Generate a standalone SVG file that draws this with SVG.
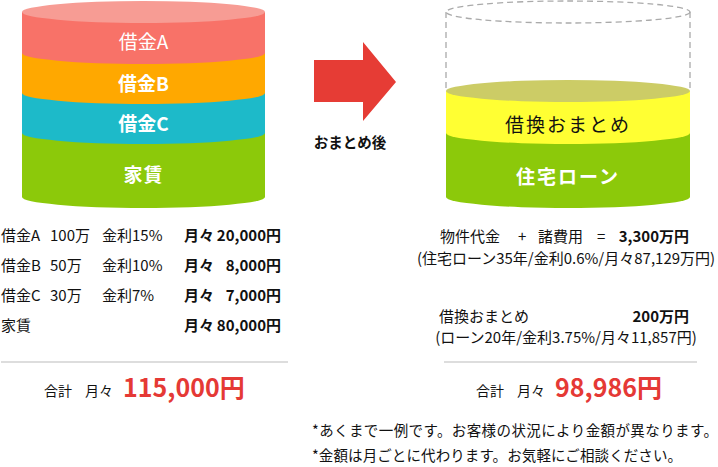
<svg xmlns="http://www.w3.org/2000/svg" width="718" height="467" viewBox="0 0 718 467">
<style>
text{font-family:"Noto Sans CJK JP","Noto Sans",sans-serif;}
.t{font-size:15px;fill:#111;}
.b{font-weight:bold;}
.lbl{font-size:19px;fill:#fff;text-anchor:middle;}
.red{fill:#E53935;font-weight:bold;font-size:25px;}
.note{font-size:14.5px;fill:#111;}
.div{stroke:#dddddd;stroke-width:2;}
.dash{fill:none;stroke:#aaaaaa;stroke-width:1.3;stroke-dasharray:6 4;}
</style>
<g id="before-cylinder">
<path d="M22,133 L265,133 L265,197 A121.5,11 0 0 1 22,197 Z" fill="#8CC90A"/>
<path d="M22,93 L265,93 L265,133 A121.5,11 0 0 1 22,133 Z" fill="#1DBAC9"/>
<path d="M22,53 L265,53 L265,93 A121.5,11 0 0 1 22,93 Z" fill="#FFA800"/>
<path d="M22,12 L265,12 L265,53 A121.5,11 0 0 1 22,53 Z" fill="#F87268"/>
<ellipse cx="143.5" cy="12" rx="121.5" ry="11" fill="#F79C94"/>
<text class="lbl" x="143.5" y="49">借金A</text>
<text class="lbl b" x="143.5" y="91">借金B</text>
<text class="lbl b" x="143.5" y="131">借金C</text>
<text class="lbl b" x="143.5" y="182" letter-spacing="1">家賃</text>
</g>
<g id="arrow">
<path d="M314,60 L363,60 L363,42 L396,82 L363,121 L363,102 L314,102 Z" fill="#E63C35"/>
<text x="350" y="148" text-anchor="middle" font-size="14.5" font-weight="bold" fill="#111">おまとめ後</text>
</g>
<g id="after-cylinder">
<ellipse class="dash" cx="568" cy="12" rx="122" ry="11"/>
<line class="dash" x1="446" y1="12" x2="446" y2="91"/>
<line class="dash" x1="690" y1="12" x2="690" y2="91"/>
<path d="M446,133 L690,133 L690,197 A122,11 0 0 1 446,197 Z" fill="#8CC90A"/>
<path d="M446,91 L690,91 L690,133 A122,11 0 0 1 446,133 Z" fill="#FFFF33"/>
<ellipse cx="568" cy="91" rx="122" ry="11" fill="#CCCC66"/>
<text x="568" y="132" text-anchor="middle" font-size="19" letter-spacing="2" fill="#111">借換おまとめ</text>
<text class="lbl b" x="568" y="184" letter-spacing="2">住宅ローン</text>
</g>
<g id="before-table">
<text class="t" x="1" y="241">借金A</text><text class="t" x="50" y="241">100万</text><text class="t" x="102" y="241">金利15%</text>
<text class="t b" x="184" y="241">月々</text><text class="t b" x="281" y="241" text-anchor="end">20,000円</text>
<text class="t" x="1" y="271">借金B</text><text class="t" x="50" y="271">50万</text><text class="t" x="102" y="271">金利10%</text>
<text class="t b" x="184" y="271">月々</text><text class="t b" x="281" y="271" text-anchor="end">8,000円</text>
<text class="t" x="1" y="301">借金C</text><text class="t" x="50" y="301">30万</text><text class="t" x="102" y="301">金利7%</text>
<text class="t b" x="184" y="301">月々</text><text class="t b" x="281" y="301" text-anchor="end">7,000円</text>
<text class="t" x="1" y="331">家賃</text>
<text class="t b" x="184" y="331">月々</text><text class="t b" x="281" y="331" text-anchor="end">80,000円</text>
<line class="div" x1="1" y1="362" x2="288" y2="362"/>
<text x="44" y="396" font-size="14" fill="#111">合計</text>
<text x="85" y="396" font-size="14" fill="#111">月々</text>
<text class="red" x="123" y="397">115,000円</text>
</g>
<g id="after-table">
<text class="t" x="440" y="242">物件代金</text>
<text class="t" x="518" y="242">+</text>
<text class="t" x="538" y="242">諸費用</text>
<text class="t" x="597" y="242">=</text>
<text class="t b" x="689" y="242" text-anchor="end">3,300万円</text>
<text class="t" x="566" y="264" text-anchor="middle">(住宅ローン35年/金利0.6%/月々87,129万円)</text>
<text class="t" x="439" y="322">借換おまとめ</text>
<text class="t b" x="689" y="322" text-anchor="end">200万円</text>
<text class="t" x="566" y="343" text-anchor="middle">(ローン20年/金利3.75%/月々11,857円)</text>
<line class="div" x1="444" y1="362" x2="697" y2="362"/>
<text x="476" y="396" font-size="14" fill="#111">合計</text>
<text x="517" y="396" font-size="14" fill="#111">月々</text>
<text class="red" x="555" y="397">98,986円</text>
</g>
<g id="notes">
<text class="note" x="312" y="436" letter-spacing="0.4">*あくまで一例です。お客様の状況により金額が異なります。</text>
<text class="note" x="312" y="461" letter-spacing="0.1">*金額は月ごとに代わります。お気軽にご相談ください。</text>
</g>
</svg>
